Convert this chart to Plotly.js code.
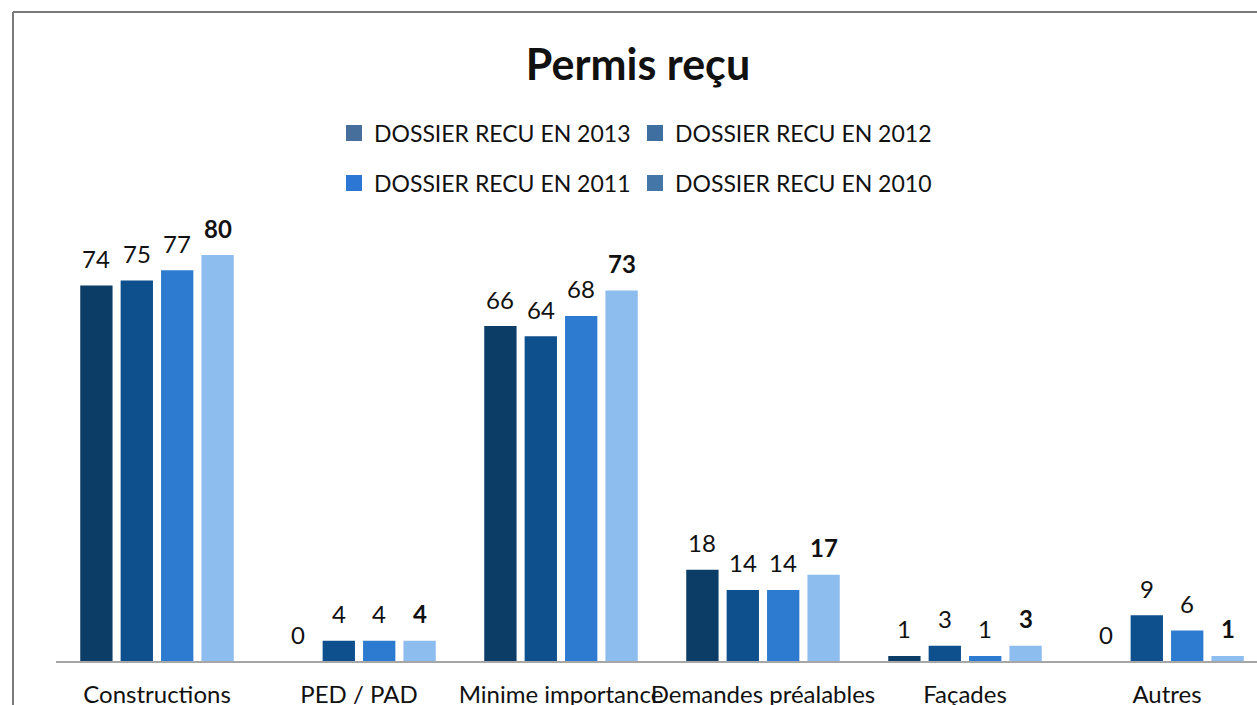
<!DOCTYPE html>
<html>
<head>
<meta charset="utf-8">
<script src="https://cdn.plot.ly/plotly-3.0.1.min.js"></script>
<style>
  html, body { margin: 0; padding: 0; background: #ffffff; }
  #chart { width: 1257px; height: 705px; }
</style>
</head>
<body>
<div id="chart"></div>
<script>
// ---- data ----
const categories = ["Constructions", "PED / PAD", "Minime importance", "Demandes préalables", "Façades", "Autres"];
const seriesNames = ["DOSSIER RECU EN 2013", "DOSSIER RECU EN 2012", "DOSSIER RECU EN 2011", "DOSSIER RECU EN 2010"];
const values2013 = [74, 0, 66, 18, 1, 0];
const values2012 = [75, 4, 64, 14, 3, 9];
const values2011 = [77, 4, 68, 14, 1, 6];
const values2010 = [80, 4, 73, 17, 3, 1];
const chartTitle = "Permis reçu";

// ---- styles ----
const seriesValues = [values2013, values2012, values2011, values2010];
const barColors = ["#0c3d66", "#0e4f8e", "#2c7bd0", "#8dbcee"];
const legendColors = ["#46709b", "#3f6fa0", "#2b77d3", "#4476a7"];
const legendIds = ["legend", "legend", "legend2", "legend2"];
const boldLabel = [false, false, false, true];
const FONT = "Lato, 'Open Sans', sans-serif";
const bargap = 0.2;

const traces = [];
seriesValues.forEach((vals, i) => {
  traces.push({
    type: "bar",
    name: seriesNames[i],
    x: categories,
    y: vals,
    marker: { color: barColors[i] },
    showlegend: false,
    hoverinfo: "x+y+name"
  });
});
// legend entries (colours as shown in the reference legend)
seriesNames.forEach((n, i) => {
  traces.push({
    type: "scatter",
    mode: "markers",
    name: n,
    x: [null],
    y: [null],
    marker: { symbol: "square", size: 16, color: legendColors[i] },
    legend: legendIds[i],
    showlegend: true,
    hoverinfo: "skip"
  });
});

// data labels above each bar
const slot = (1 - bargap) / seriesValues.length;
const annotations = [];
seriesValues.forEach((vals, i) => {
  vals.forEach((v, j) => {
    annotations.push({
      xref: "x", yref: "y",
      x: j + (i - (seriesValues.length - 1) / 2) * slot,
      y: v,
      text: boldLabel[i] ? "<b>" + v + "</b>" : String(v),
      showarrow: false,
      yanchor: "middle",
      yshift: 27,
      font: { family: FONT, size: 24, color: "#111111" }
    });
  });
});

const L = 56, T = 215, B = 44;
const plotH = 705 - T - B;
const pxToPaperY = py => (705 - B - py) / plotH;
const plotW = 1257 - L;
const pxToPaperX = px => (px - L) / plotW;

const legendCommon = {
  orientation: "h",
  xanchor: "left",
  yanchor: "middle",
  entrywidth: 256, entrywidthmode: "pixels",
  font: { family: FONT, size: 23, color: "#111111" },
  bgcolor: "rgba(0,0,0,0)"
};

const layout = {
  width: 1257,
  height: 705,
  margin: { l: L, r: 0, t: T, b: B, pad: 0 },
  paper_bgcolor: "#ffffff",
  plot_bgcolor: "#ffffff",
  font: { family: FONT, size: 24, color: "#111111" },
  title: {
    text: "<b>" + chartTitle + "</b>",
    font: { family: FONT, size: 43, color: "#111111" },
    x: 638 / 1257,
    xanchor: "center",
    y: 1 - 65 / 705,
    yanchor: "middle"
  },
  barmode: "group",
  bargap: bargap,
  bargroupgap: 0.2,
  xaxis: {
    type: "category",
    range: [-0.5, -0.5 + plotW / 202],
    showline: true,
    linecolor: "#a6a6a6",
    linewidth: 2,
    showgrid: false,
    zeroline: false,
    ticks: "",
    tickangle: 0,
    ticklabelstandoff: 11,
    tickfont: { family: FONT, size: 24, color: "#111111" },
    fixedrange: true
  },
  yaxis: {
    range: [0, plotH / 5.075],
    showline: false,
    showgrid: false,
    zeroline: false,
    showticklabels: false,
    ticks: "",
    fixedrange: true
  },
  legend: Object.assign({}, legendCommon, { x: pxToPaperX(334), y: pxToPaperY(133) }),
  legend2: Object.assign({}, legendCommon, { x: pxToPaperX(334), y: pxToPaperY(183) }),
  annotations: annotations,
  shapes: [
    { type: "line", xref: "paper", yref: "paper",
      x0: pxToPaperX(13), x1: pxToPaperX(1257), y0: pxToPaperY(12), y1: pxToPaperY(12),
      line: { color: "#7a7a7a", width: 2 } },
    { type: "line", xref: "paper", yref: "paper",
      x0: pxToPaperX(13), x1: pxToPaperX(13), y0: pxToPaperY(12), y1: pxToPaperY(705),
      line: { color: "#7a7a7a", width: 2 } }
  ]
};

Plotly.newPlot("chart", traces, layout, { displayModeBar: false });
</script>
</body>
</html>
